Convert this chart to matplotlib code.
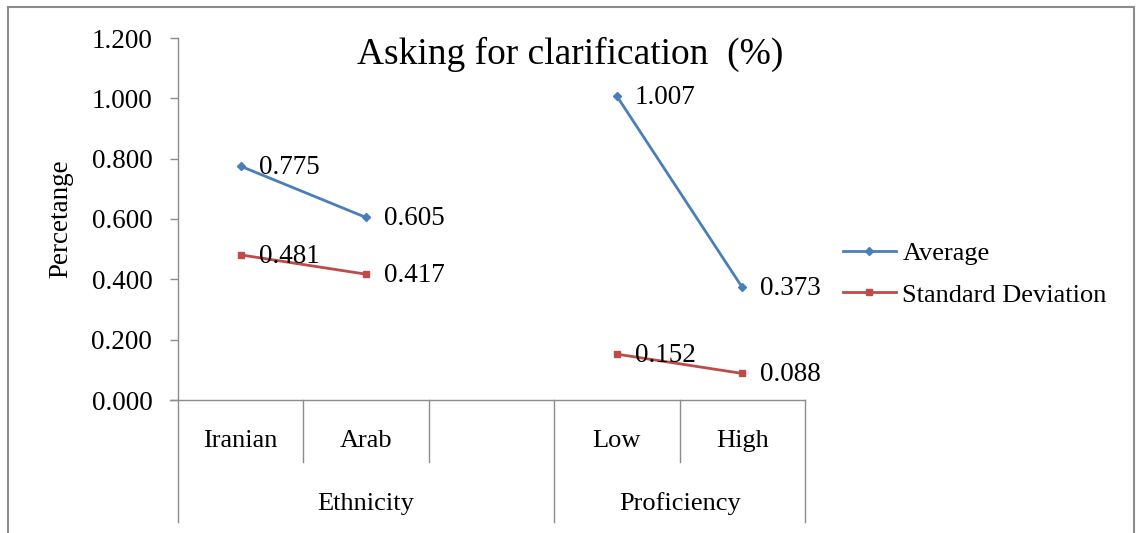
import matplotlib
matplotlib.use("Agg")
import matplotlib.pyplot as plt
import matplotlib.transforms as mtransforms
from matplotlib.patches import Rectangle
import numpy as np

# Chart data
categories = ["Iranian", "Arab", "", "Low", "High"]
groups = ["Ethnicity", "Proficiency"]
group_spans = [(0, 3), (3, 5)]  # category index ranges [start, end)
average = [0.775, 0.605, np.nan, 1.007, 0.373]
std_dev = [0.481, 0.417, np.nan, 0.152, 0.088]
y_ticks = [0.0, 0.2, 0.4, 0.6, 0.8, 1.0, 1.2]

plt.rcParams["font.family"] = ["Liberation Serif", "DejaVu Serif"]

W, H = 1136, 533
fig = plt.figure(figsize=(W / 100, H / 100), dpi=100)

# outer chart frame
fig.patches.append(Rectangle((8 / W, -0.05), (1134 - 8) / W, (H - 7) / H + 0.05,
                             transform=fig.transFigure, fill=False,
                             edgecolor="#8c8c8c", linewidth=1.5))

left, right, top, bottom = 178, 805, 38, 400
ax = fig.add_axes([left / W, (H - bottom) / H, (right - left) / W, (bottom - top) / H])

x = np.arange(len(categories))
blue = "#4A7EBB"
red = "#BE4B48"

ax.plot(x[:2], average[:2], color=blue, lw=2, marker="D", ms=4, label="Average")
ax.plot(x[3:], average[3:], color=blue, lw=2, marker="D", ms=4)
ax.plot(x[:2], std_dev[:2], color=red, lw=2, marker="s", ms=5, label="Standard Deviation")
ax.plot(x[3:], std_dev[3:], color=red, lw=2, marker="s", ms=5)

for series in (average, std_dev):
    for xi, v in zip(x, series):
        if not np.isnan(v):
            ax.annotate(f"{v:.3f}", (xi, v), xytext=(13, -1), textcoords="offset points",
                        ha="left", va="center", fontsize=19.5)

ax.set_xlim(-0.5, len(categories) - 0.5)
ax.set_ylim(0, 1.2)
ax.set_yticks(y_ticks)
ax.set_yticklabels([f"{t:.3f}" for t in y_ticks], fontsize=19.5)
ax.tick_params(axis="y", length=6, width=1, color="#8c8c8c", pad=12.5)
ax.set_xticks([])

for s in ["top", "right", "bottom"]:
    ax.spines[s].set_visible(False)
ax.spines["left"].set_color("#8c8c8c")
ax.spines["left"].set_linewidth(1)

ax.set_ylabel("Percetange", fontsize=19.5, labelpad=13)

# multi-level category axis
gray = "#8c8c8c"
px = 1 / (bottom - top)  # one pixel in axes-y units
trans = mtransforms.blended_transform_factory(ax.transData, ax.transAxes)
ax.plot([-0.5 - 8 / 125.4, len(categories) - 0.5], [0, 0], transform=trans,
        color=gray, lw=1, clip_on=False)
group_edges = {s for s, e in group_spans} | {e for s, e in group_spans}
for b in range(len(categories) + 1):
    xb = b - 0.5
    y_end = -122 * px if b in group_edges else -62 * px
    ax.plot([xb, xb], [0, y_end], transform=trans, color=gray, lw=1, clip_on=False)
for xi, c in zip(x, categories):
    ax.text(xi, -41 * px, c, transform=trans, ha="center", va="center", fontsize=19)
for g, (s, e) in zip(groups, group_spans):
    ax.text((s + e - 1) / 2, -104 * px, g, transform=trans, ha="center", va="center", fontsize=19)

fig.text(570 / W, (H - 54) / H, "Asking for clarification  (%)", ha="center", va="center",
         fontsize=27)

ax.legend(loc="center left", bbox_to_anchor=(843 / W, (H - 274) / H),
          bbox_transform=fig.transFigure, frameon=False, fontsize=19,
          handlelength=2.0, handletextpad=0.25, labelspacing=0.7, borderaxespad=0,
          borderpad=0)

fig.savefig("out.png", dpi=100)
